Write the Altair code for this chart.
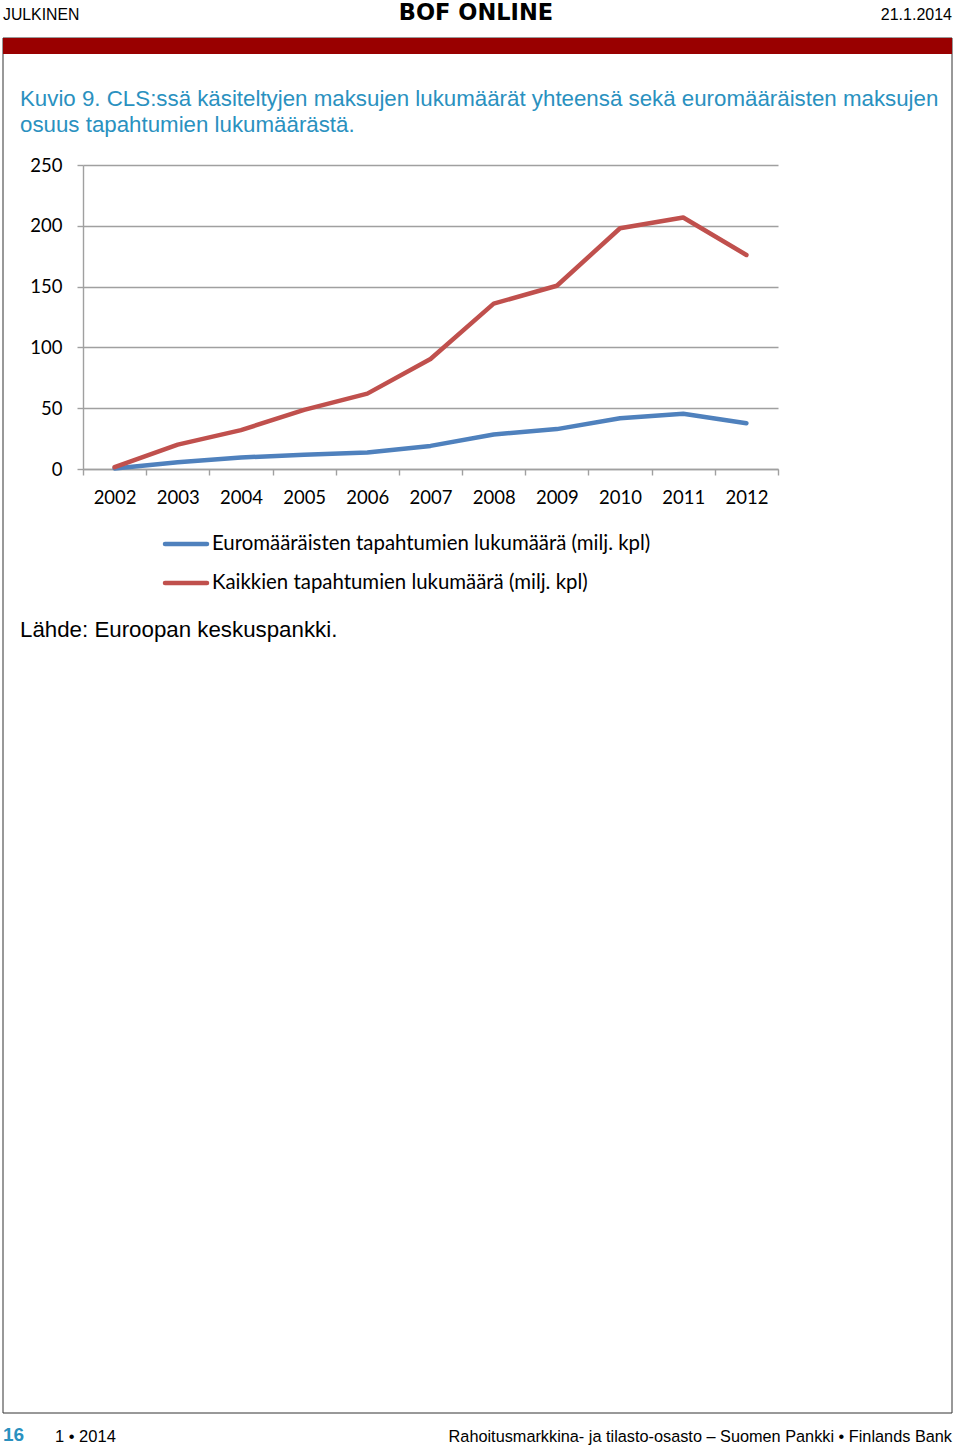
import altair as alt
import pandas as pd

# ---- data ----
years = ["2002", "2003", "2004", "2005", "2006", "2007", "2008", "2009", "2010", "2011", "2012"]
euro_counts = [0.5, 5.5, 9.5, 11.7, 13.6, 19.0, 28.4, 32.8, 41.8, 45.4, 37.7]
total_counts = [1.5, 20.0, 32.0, 48.6, 62.0, 90.5, 136.0, 150.7, 198.0, 206.8, 176.0]
series_names = [
    "Euromääräisten tapahtumien lukumäärä (milj. kpl)",
    "Kaikkien tapahtumien lukumäärä (milj. kpl)",
]
series_colors = ["#4F81BD", "#C0504D"]
y_ticks = [0, 50, 100, 150, 200, 250]

header_left = "JULKINEN"
header_center = "BOF ONLINE"
header_right = "21.1.2014"
title_lines = [
    "Kuvio 9. CLS:ssä käsiteltyjen maksujen lukumäärät yhteensä sekä euromääräisten maksujen",
    "osuus tapahtumien lukumäärästä.",
]
source_text = "Lähde: Euroopan keskuspankki."
footer_page = "16"
footer_issue = "1 • 2014"
footer_right = "Rahoitusmarkkina- ja tilasto-osasto – Suomen Pankki • Finlands Bank"

# ---- layout (page pixels) ----
PAGE_W, PAGE_H = 960, 1450
OX, OY = 83, 165          # top-left of plot area
W, H = 695, 304           # plot area size
GRID = "#A0A0A0"
TEAL = "#2A91BF"

rows = []
for name, vals in zip(series_names, [euro_counts, total_counts]):
    for yr, v in zip(years, vals):
        rows.append({"year": yr, "value": v, "series": name})
df = pd.DataFrame(rows)

lines = alt.Chart(df).mark_line(strokeWidth=4.5, strokeCap="round", strokeJoin="round").encode(
    x=alt.X(
        "year:O",
        bandPosition=0.5,
        scale=alt.Scale(type="band", domain=years, paddingInner=0, paddingOuter=0),
        axis=alt.Axis(
            title=None, labelAngle=0, tickBand="extent", tickSize=6, tickColor=GRID,
            tickWidth=1.4, domainColor=GRID, domainWidth=1.4, grid=False,
            labelFont="Lato", labelFontSize=18.5, labelColor="#000000",
            labelPadding=13, labelBaseline="top",
        ),
    ),
    y=alt.Y(
        "value:Q",
        scale=alt.Scale(domain=[0, 250], nice=False, zero=True),
        axis=alt.Axis(
            title=None, values=y_ticks, tickSize=6, tickColor=GRID, tickWidth=1.4,
            domainColor=GRID, domainWidth=1.4, grid=True, gridColor=GRID, gridWidth=1.4,
            labelFont="Lato", labelFontSize=18.5, labelColor="#000000", labelPadding=15,
        ),
    ),
    color=alt.Color("series:N", scale=alt.Scale(domain=series_names, range=series_colors), legend=None),
    detail="series:N",
)

one = pd.DataFrame({"a": [0]})


def txt(text, px, py, size, font="Liberation Sans", color="#000000", align="left",
        weight="normal", baseline="middle"):
    return alt.Chart(one).mark_text(
        text=text, font=font, fontSize=size, color=color, align=align,
        fontWeight=weight, baseline=baseline,
    ).encode(x=alt.value(px - OX), y=alt.value(py - OY))


def rect(x1, y1, x2, y2, **kw):
    return alt.Chart(one).mark_rect(**kw).encode(
        x=alt.value(x1 - OX), x2=alt.value(x2 - OX),
        y=alt.value(y1 - OY), y2=alt.value(y2 - OY),
    )


layers = []
# page frame and red band
layers.append(rect(3, 38, 952, 1413, filled=False, stroke="#333333", strokeWidth=1))
layers.append(rect(3, 38, 952, 54, color="#990000"))
# header
layers.append(txt(header_left, 3, 15, 15.8))
layers.append(txt(header_center, 476, 13, 22.5, align="center", weight="bold", font="DejaVu Sans"))
layers.append(txt(header_right, 952, 15, 16, align="right"))
# title
layers.append(txt(title_lines[0], 20, 106, 22.3, color=TEAL, baseline="alphabetic"))
layers.append(txt(title_lines[1], 20, 132, 22.3, color=TEAL, baseline="alphabetic"))

# legend (manual)
for i, name in enumerate(series_names):
    ly = 544 + i * 39
    layers.append(
        alt.Chart(one).mark_rule(strokeWidth=4.5, strokeCap="round", color=series_colors[i]).encode(
            x=alt.value(165 - OX), x2=alt.value(207 - OX), y=alt.value(ly - OY)
        )
    )
    layers.append(txt(name, 212, ly, 20.4, font="Lato"))

# source and footer
layers.append(txt(source_text, 20, 630, 22.3))
layers.append(txt(footer_page, 3, 1435, 19, color=TEAL, weight="bold"))
layers.append(txt(footer_issue, 55, 1437, 16.5))
layers.append(txt(footer_right, 952, 1437, 16.3, align="right"))

chart = alt.layer(lines, *layers).properties(
    width=W, height=H,
    padding={"left": OX, "top": OY, "right": PAGE_W - OX - W, "bottom": PAGE_H - OY - H},
    autosize=alt.AutoSizeParams(type="none"),
    background="#ffffff",
).configure_view(stroke=None)

chart.save("out.html", embed_options={"renderer": "svg", "actions": False})
